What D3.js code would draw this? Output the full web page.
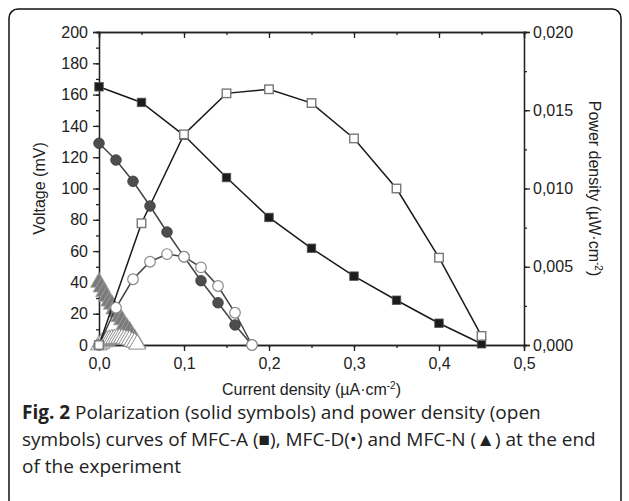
<!DOCTYPE html>
<html>
<head>
<meta charset="utf-8">
<title>Fig. 2</title>
<script src="https://cdn.jsdelivr.net/npm/d3@7"></script>
<style>
  body { margin: 0; background: #fff; }
  svg { display: block; }
  .axis path, .axis line { stroke: #222; stroke-width: 1.3; }
</style>
</head>
<body>
<script>
// MFC-A
var currentA = [0, 0.05, 0.10, 0.15, 0.20, 0.25, 0.30, 0.35, 0.40, 0.45];
var voltageA = [165, 155, 134, 107, 81.5, 61.8, 44, 28.6, 13.9, 0.8];
var powerA = [0, 0.00778, 0.01346, 0.01608, 0.01634, 0.01546, 0.0132, 0.0100, 0.00558, 0.00058];

// MFC-D
var currentD = [0, 0.02, 0.04, 0.06, 0.08, 0.10, 0.12, 0.14, 0.16, 0.18];
var voltageD = [128.9, 118.2, 104.6, 88.8, 72.2, 56.4, 41.1, 27.0, 12.8, 0];
var powerD = [0, 0.00238, 0.0042, 0.00532, 0.00581, 0.00564, 0.00496, 0.00377, 0.00206, 0];

// MFC-N
var currentN = [0, 0.003, 0.006, 0.009, 0.012, 0.015, 0.018, 0.021, 0.024, 0.027, 0.030, 0.033, 0.036, 0.039, 0.042, 0.045];
var voltageN = [40, 37, 34, 31, 28, 26, 23, 21, 18, 16, 13, 11, 9, 6, 4, 1];
var powerN = [0, 0.00011, 0.0002, 0.00028, 0.00034, 0.00038, 0.0004, 0.00042, 0.00043, 0.00043, 0.00039, 0.00036, 0.00032, 0.00023, 0.00017, 0.00005];

var xTicks = [0, 0.1, 0.2, 0.3, 0.4, 0.5];
var yTicks = [0, 20, 40, 60, 80, 100, 120, 140, 160, 180, 200];
var y2Ticks = [0, 0.005, 0.010, 0.015, 0.020];

var width = 629, height = 501;
var pLeft = 99, pRight = 524, pTop = 32, pBottom = 345;

var svg = d3.select('body').append('svg')
    .attr('width', width)
    .attr('height', height);

// rounded frame
svg.append('rect')
    .attr('x', 9).attr('y', 9)
    .attr('width', 612).attr('height', 500)
    .attr('rx', 9)
    .attr('fill', 'none')
    .attr('stroke', '#111')
    .attr('stroke-width', 1.5);

var x = d3.scaleLinear().domain([0, 0.5]).range([pLeft, pRight]);
var y = d3.scaleLinear().domain([0, 200]).range([pBottom, pTop]);
var y2 = d3.scaleLinear().domain([0, 0.020]).range([pBottom, pTop]);

var loc = d3.formatLocale({ decimal: ",", thousands: ".", grouping: [3], currency: ["", ""] });

function minors(a, b, step) {
    return d3.range(Math.round((b - a) / step) + 1).map(function (i) { return a + i * step; });
}

// axes: majors and minor ticks
svg.append('g').attr('class', 'axis')
    .attr('transform', 'translate(0,' + pBottom + ')')
    .call(d3.axisBottom(x).tickValues(minors(0, 0.5, 0.05)).tickSize(3).tickFormat(''));
svg.append('g').attr('class', 'axis')
    .attr('transform', 'translate(0,' + pBottom + ')')
    .call(d3.axisBottom(x).tickValues(xTicks).tickSize(6).tickPadding(7).tickFormat(loc.format('.1f')));

svg.append('g').attr('class', 'axis')
    .attr('transform', 'translate(0,' + pTop + ')')
    .call(d3.axisTop(x).tickValues(minors(0, 0.5, 0.05)).tickSize(-3).tickFormat(''));
svg.append('g').attr('class', 'axis')
    .attr('transform', 'translate(0,' + pTop + ')')
    .call(d3.axisTop(x).tickValues(xTicks).tickSize(-6).tickFormat(''));

svg.append('g').attr('class', 'axis')
    .attr('transform', 'translate(' + pLeft + ',0)')
    .call(d3.axisLeft(y).tickValues(minors(0, 200, 10)).tickSize(3).tickFormat(''));
svg.append('g').attr('class', 'axis')
    .attr('transform', 'translate(' + pLeft + ',0)')
    .call(d3.axisLeft(y).tickValues(yTicks).tickSize(6).tickPadding(5).tickFormat(d3.format('d')));

svg.append('g').attr('class', 'axis')
    .attr('transform', 'translate(' + pRight + ',0)')
    .call(d3.axisRight(y2).tickValues(minors(0, 0.02, 0.0025)).tickSize(3).tickFormat(''));
svg.append('g').attr('class', 'axis')
    .attr('transform', 'translate(' + pRight + ',0)')
    .call(d3.axisRight(y2).tickValues(y2Ticks).tickSize(6).tickPadding(3).tickFormat(loc.format('.3f')));

svg.selectAll('.axis .domain').attr('stroke-width', 1.5);
svg.selectAll('.axis').attr('font-size', null).attr('font-family', null);
svg.selectAll('.axis .tick text')
    .style('font-family', '"Liberation Sans", Arial, sans-serif')
    .style('font-size', '16px')
    .attr('fill', '#222');

// axis titles
svg.append('text')
    .attr('transform', 'translate(45,' + ((pTop + pBottom) / 2) + ') rotate(-90)')
    .attr('text-anchor', 'middle')
    .style('font-family', '"Liberation Sans", Arial, sans-serif')
    .style('font-size', '16px').attr('fill', '#222')
    .text('Voltage (mV)');

var xt = svg.append('text')
    .attr('x', (pLeft + pRight) / 2).attr('y', 395)
    .attr('text-anchor', 'middle')
    .style('font-family', '"Liberation Sans", Arial, sans-serif')
    .style('font-size', '16px').attr('fill', '#222');
xt.append('tspan').text('Current density (\u00b5A\u00b7cm');
xt.append('tspan').attr('dy', -6).style('font-size', '10px').text('-2');
xt.append('tspan').attr('dy', 6).text(')');

var yt = svg.append('text')
    .attr('transform', 'translate(589,' + ((pTop + pBottom) / 2) + ') rotate(90)')
    .attr('text-anchor', 'middle')
    .style('font-family', '"Liberation Sans", Arial, sans-serif')
    .style('font-size', '16px').attr('fill', '#222');
yt.append('tspan').text('Power density (\u00b5W\u00b7cm');
yt.append('tspan').attr('dy', -6).style('font-size', '10px').text('-2');
yt.append('tspan').attr('dy', 6).text(')');

function pts(xs, ys) { return xs.map(function (d, i) { return [d, ys[i]]; }); }

var lineV = d3.line().x(function (d) { return x(d[0]); }).y(function (d) { return y(d[1]); });
var lineP = d3.line().x(function (d) { return x(d[0]); }).y(function (d) { return y2(d[1]); });

var plot = svg.append('g');
var tri = d3.symbol().type(d3.symbolTriangle).size(125);

// MFC-N: filled triangles (voltage), open triangles (power)
plot.append('path').attr('d', lineV(pts(currentN, voltageN)))
    .attr('fill', 'none').attr('stroke', '#777').attr('stroke-width', 1.2);
plot.selectAll('.nv').data(pts(currentN, voltageN)).enter().append('path')
    .attr('d', tri)
    .attr('transform', function (d) { return 'translate(' + x(d[0]) + ',' + y(d[1]) + ')'; })
    .attr('fill', '#7a7a7a').attr('stroke', '#a5a5a5').attr('stroke-width', 0.8);
plot.selectAll('.np').data(pts(currentN, powerN)).enter().append('path')
    .attr('d', tri)
    .attr('transform', function (d) { return 'translate(' + x(d[0]) + ',' + y2(d[1]) + ')'; })
    .attr('fill', '#fff').attr('stroke', '#8c8c8c').attr('stroke-width', 1);

// lines
plot.append('path').attr('d', lineV(pts(currentD, voltageD)))
    .attr('fill', 'none').attr('stroke', '#444').attr('stroke-width', 1.5);
plot.append('path').attr('d', lineP(pts(currentD, powerD)))
    .attr('fill', 'none').attr('stroke', '#444').attr('stroke-width', 1.5);
plot.append('path').attr('d', lineV(pts(currentA, voltageA)))
    .attr('fill', 'none').attr('stroke', '#1a1a1a').attr('stroke-width', 1.5);
plot.append('path').attr('d', lineP(pts(currentA, powerA)))
    .attr('fill', 'none').attr('stroke', '#1a1a1a').attr('stroke-width', 1.5);

// MFC-D circles
plot.selectAll('.dv').data(pts(currentD, voltageD)).enter().append('circle')
    .attr('cx', function (d) { return x(d[0]); })
    .attr('cy', function (d) { return y(d[1]); })
    .attr('r', 5.3).attr('fill', '#4d4d4d').attr('stroke', '#3a3a3a').attr('stroke-width', 0.8);
plot.selectAll('.dp').data(pts(currentD, powerD)).enter().append('circle')
    .attr('cx', function (d) { return x(d[0]); })
    .attr('cy', function (d) { return y2(d[1]); })
    .attr('r', 5.3).attr('fill', '#fff').attr('stroke', '#8a8a8a').attr('stroke-width', 1.2);

// MFC-A squares
var sq = 8.5;
plot.selectAll('.av').data(pts(currentA, voltageA)).enter().append('rect')
    .attr('x', function (d) { return x(d[0]) - sq / 2; })
    .attr('y', function (d) { return y(d[1]) - sq / 2; })
    .attr('width', sq).attr('height', sq)
    .attr('fill', '#1c1c1c').attr('stroke', '#555').attr('stroke-width', 0.8);
plot.selectAll('.ap').data(pts(currentA, powerA)).enter().append('rect')
    .attr('x', function (d) { return x(d[0]) - sq / 2; })
    .attr('y', function (d) { return y2(d[1]) - sq / 2; })
    .attr('width', sq).attr('height', sq)
    .attr('fill', '#fff').attr('stroke', '#777').attr('stroke-width', 1.4);

// caption
var cap = svg.append('g')
    .style('font-family', '"Open Sans", "Noto Sans", sans-serif')
    .style('font-size', '19px').attr('fill', '#222');
var l1 = cap.append('text').attr('x', 22).attr('y', 419);
l1.append('tspan').style('font-weight', 'bold').text('Fig. 2');
l1.append('tspan').text(' Polarization (solid symbols) and power density (open');
cap.append('text').attr('x', 22).attr('y', 446)
    .text('symbols) curves of MFC-A (\u25a0), MFC-D(\u2022) and MFC-N (\u25b2) at the end');
cap.append('text').attr('x', 22).attr('y', 473).text('of the experiment');
</script>
</body>
</html>
